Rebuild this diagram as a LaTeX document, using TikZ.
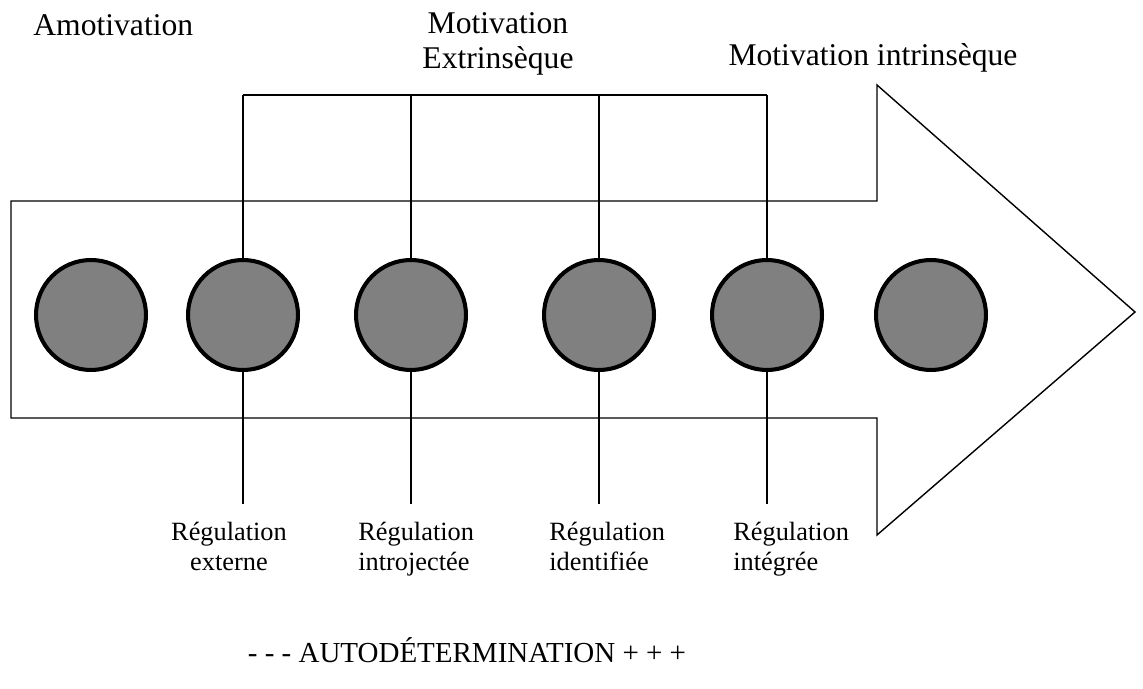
\documentclass[tikz,border=0pt]{standalone}
\usepackage{fontspec}
\setmainfont{Liberation Serif}
\usepackage{tikz}

\begin{document}
\begin{tikzpicture}[x=0.02cm,y=-0.02cm,
    stage/.style={circle,draw,line width=2.3pt,fill=gray,minimum size=2.2cm,inner sep=0pt},
    thin/.style={line width=0.8pt},
    big/.style={inner sep=0pt,font=\fontsize{18}{19.8}\selectfont},
    small/.style={inner sep=0pt,font=\fontsize{15}{17}\selectfont}]
    \useasboundingbox (0,0) rectangle (1143,689);
    % the big arrow
    \draw[thin] (11,201) -- (877,201) -- (877,85) -- (1135,312) -- (877,535) -- (877,418) -- (11,418) -- cycle;
    % titles
    \node[big,anchor=base west] (amot) at (33,36) {Amotivation};
    \node[big,align=center] (mext) at (498,44) {Motivation\\Extrinsèque};
    \node[big,anchor=base] (mint) at (873,66) {Motivation intrinsèque};
    % stages
    \node[stage] (s0) at (91,315) {};
    \node[stage] (s1) at (243,315) {};
    \node[stage] (s2) at (411,315) {};
    \node[stage] (s3) at (599,315) {};
    \node[stage] (s4) at (767,315) {};
    \node[stage] (s5) at (931,315) {};
    % bracket and ticks
    \coordinate (t1) at (243,95);
    \coordinate (t4) at (767,95);
    \coordinate (low) at (0,504);
    \draw[thin] (t1) -- (t4);
    \draw[thin] (t1) -- (s1.north);
    \draw[thin] (s2.north |- t1) -- (s2.north);
    \draw[thin] (s3.north |- t1) -- (s3.north);
    \draw[thin] (t4) -- (s4.north);
    \draw[thin] (s1.south) -- (s1.south |- low);
    \draw[thin] (s2.south) -- (s2.south |- low);
    \draw[thin] (s3.south) -- (s3.south |- low);
    \draw[thin] (s4.south) -- (s4.south |- low);
    % regulation labels
    \node[small,align=center,anchor=north] (r1) at (229,522) {Régulation\\externe};
    \node[small,align=left,anchor=north west] (r2) at (358,522) {Régulation\\introjectée};
    \node[small,align=left,anchor=north west] (r3) at (549,522) {Régulation\\identifiée};
    \node[small,align=left,anchor=north west] (r4) at (733,522) {Régulation\\intégrée};
    % scale
    \node[inner sep=0pt,anchor=base,font=\fontsize{16.5}{19}\selectfont] (auto) at (467,662) {- - - AUTODÉTERMINATION + + +};
\end{tikzpicture}
\end{document}
